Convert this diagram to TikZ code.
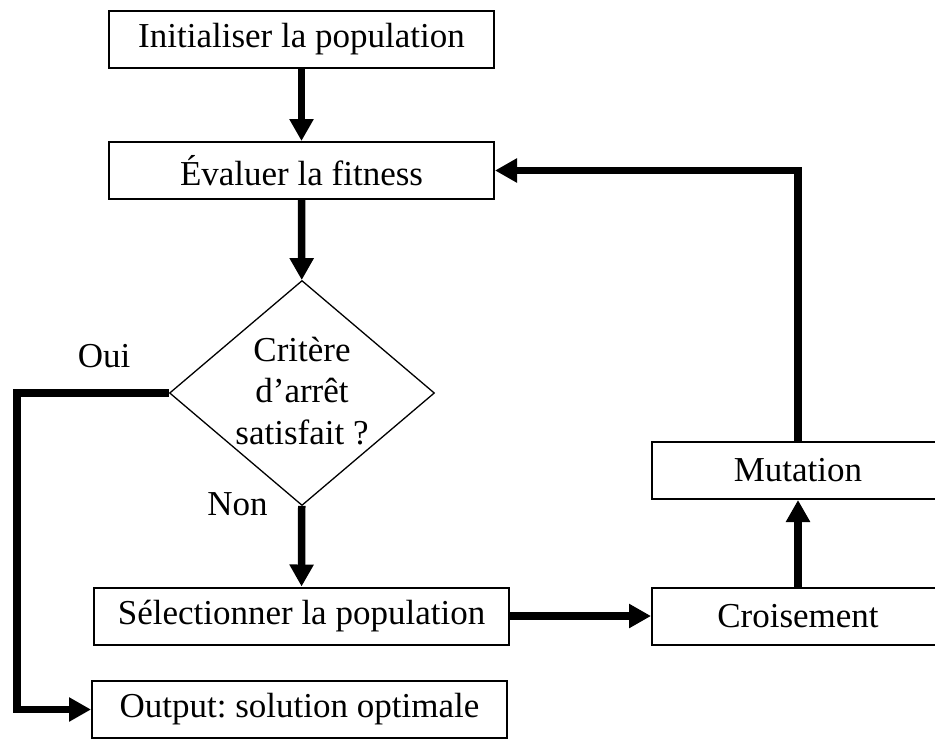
\documentclass[tikz,border=0pt]{standalone}
\usepackage{fontspec}
\setmainfont{Liberation Serif}
\usetikzlibrary{shapes.geometric,arrows.meta}
\frenchspacing
\begin{document}
\begin{tikzpicture}[x=0.5pt,y=-0.5pt,
  txt/.style={font=\fontsize{17.5}{20.8}\selectfont},
  box/.style={draw,rectangle,line width=1pt,inner sep=0pt,minimum height=28.5pt,txt},
  decision/.style={draw,diamond,line width=0.65pt,inner sep=0pt,
    minimum width=132.5pt,minimum height=112.5pt},
  flow/.style={line width=3.75pt,line join=miter,
    -{Triangle[length=11pt,width=11.5pt]}},
  lbl/.style={txt,inner sep=0pt,anchor=base}]
\useasboundingbox (0,0) rectangle (935,738);
\clip (0,0) rectangle (935,738);

% process steps
\node[box,minimum width=192.5pt] (init) at (301.5,39.5) {Initialiser la population};
\node[box,minimum width=192.5pt] (eval) at (301.5,170.5) {Évaluer la fitness};
\node[decision] (crit) at (302,393) {};
\node[txt,align=center,inner sep=0pt] (critxt) at (302,391) {Critère\\d’arrêt\\satisfait ?};
\node[box,minimum width=207.5pt] (sel) at (301.5,616) {Sélectionner la population};
\node[box,minimum width=207.5pt] (out) at (299.5,709.5) {Output: solution optimale};
\node[box,minimum width=146pt] (cross) at (798,616) {Croisement};
\node[box,minimum width=146pt] (mut) at (798,470.5) {Mutation};

% branch labels
\node[lbl] (oui) at (104,367) {Oui};
\node[lbl] (non) at (237.5,515) {Non};

% connectors
\coordinate (ouiL) at (17,393);
\draw[flow] (init) -- (eval);
\draw[flow] (eval) -- (crit);
\draw[flow] (crit) -- (sel);
\draw[flow] (sel) -- (cross);
\draw[flow] (cross) -- (mut);
\draw[flow] (mut.north) |- (eval.east);
\draw[flow] (crit.west) -- (ouiL) |- (out.west);
\end{tikzpicture}
\end{document}
